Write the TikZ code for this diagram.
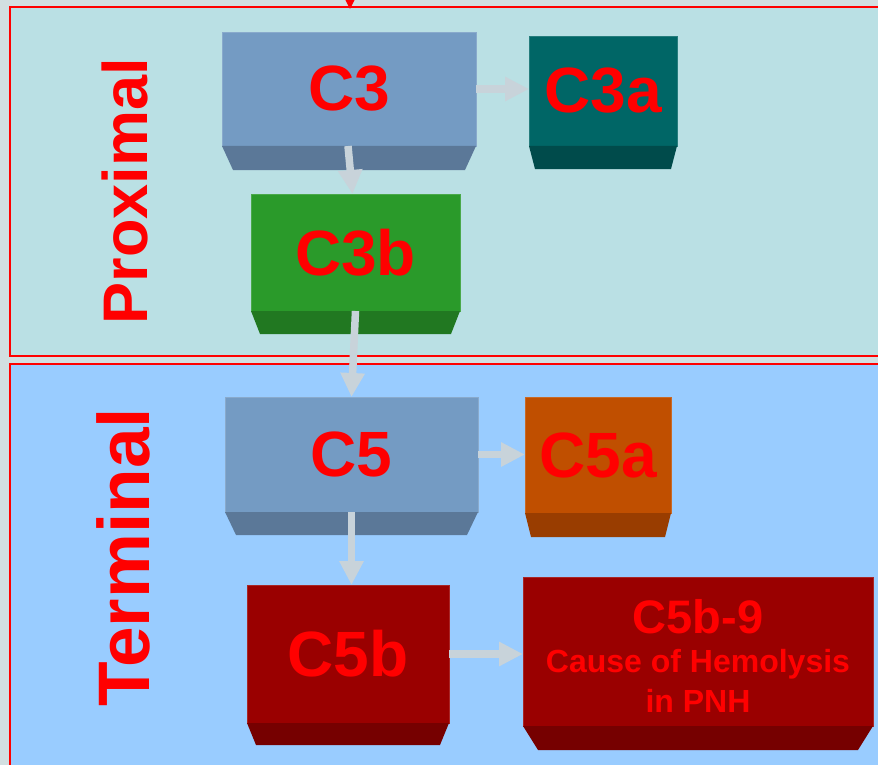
\documentclass[tikz,border=0pt]{standalone}
\usepackage{fontspec}
\setmainfont{Liberation Sans}
\usetikzlibrary{arrows.meta}
\definecolor{bggray}{HTML}{D2DFE1}
\definecolor{proxfill}{HTML}{BAE0E4}
\definecolor{termfill}{HTML}{99CCFF}
\definecolor{bluefront}{HTML}{749BC3}
\definecolor{bluebevel}{HTML}{5B7898}
\definecolor{tealfront}{HTML}{006666}
\definecolor{tealbevel}{HTML}{004B4B}
\definecolor{greenfront}{HTML}{2A9A2A}
\definecolor{greenbevel}{HTML}{217821}
\definecolor{orangefront}{HTML}{C04F00}
\definecolor{orangebevel}{HTML}{993D00}
\definecolor{redfront}{HTML}{9A0000}
\definecolor{redbevel}{HTML}{760000}
\definecolor{arrowgray}{HTML}{C8D3DA}
\definecolor{textred}{HTML}{FF0000}
\newcommand{\bevelof}[4]{\fill[#2] (#1.south west) -- (#1.south east) -- ([xshift=-#3pt,yshift=-#4pt]#1.south east) -- ([xshift=#3pt,yshift=-#4pt]#1.south west) -- cycle;}
\tikzset{
  cbox/.style={rectangle, inner sep=0pt, outer sep=0pt, text=textred,
    font=\fontsize{64}{70}\selectfont\bfseries, line width=0.8pt},
  flowarrow/.style={draw=arrowgray, line width=7.5pt,
    -{Triangle[length=24pt,width=23pt]}},
  panel/.style={draw=textred, line width=1.5pt},
  sidelabel/.style={text=textred, rotate=90, anchor=base, inner sep=0pt},
  boxtext/.style={anchor=base, inner sep=0pt, text=textred}
}
\begin{document}
\begin{tikzpicture}[x=1pt,y=-1pt]
\useasboundingbox (0,0) rectangle (878,765);
\clip (0,0) rectangle (878,765);
\fill[bggray] (0,0) rectangle (878,765);
% panels
\path[panel, fill=proxfill] (10,7) rectangle (890,356);
\path[panel, fill=termfill] (10,364) rectangle (890,780);
% incoming arrow at top
\coordinate (topin) at (350,-40);
\coordinate (topend) at (350,9);
\draw[textred, line width=1.5pt, -{Triangle[length=14pt,width=14pt]}] (topin) -- (topend);
% side labels
\node[sidelabel, font=\fontsize{63}{70}\selectfont\bfseries] (prox) at (147,191) {Proximal};
\node[sidelabel, font=\fontsize{73}{80}\selectfont\bfseries] (term) at (149,557.5) {Terminal};
% boxes
\node[cbox, fill=bluefront, draw=bluefront!85!white, minimum width=254pt, minimum height=114pt] (c3) at (349,89) {C3};
\bevelof{c3}{bluebevel}{11}{24}
\node[cbox, fill=tealfront, draw=tealfront!85!white, minimum width=148pt, minimum height=110pt] (c3a) at (603,91) {C3a};
\bevelof{c3a}{tealbevel}{6}{23}
\node[cbox, fill=greenfront, draw=greenfront!85!white, minimum width=209pt, minimum height=117pt] (c3b) at (355.5,252.5) {C3b};
\bevelof{c3b}{greenbevel}{9}{23}
\node[cbox, fill=bluefront, draw=bluefront!85!white, minimum width=253pt, minimum height=115pt] (c5) at (351.5,454.5) {C5};
\bevelof{c5}{bluebevel}{11}{23}
\node[cbox, fill=orangefront, draw=orangefront!85!white, minimum width=146pt, minimum height=116pt] (c5a) at (598,455) {C5a};
\bevelof{c5a}{orangebevel}{6}{24}
\node[cbox, fill=redfront, draw=redfront!85!white, minimum width=202pt, minimum height=138pt] (c5b) at (348,654) {C5b};
\bevelof{c5b}{redbevel}{9}{22}
\node[cbox, fill=redfront, draw=redfront!85!white, minimum width=350pt, minimum height=149pt] (c5b9) at (698,651.5) {};
\bevelof{c5b9}{redbevel}{15}{24}
\node[boxtext, font=\fontsize{47}{50}\selectfont\bfseries] (t1) at (698,633) {C5b-9};
\node[boxtext, font=\fontsize{32}{36}\selectfont\bfseries] (t2) at (698,672) {Cause of Hemolysis};
\node[boxtext, font=\fontsize{32}{36}\selectfont\bfseries] (t3) at (698,712) {in PNH};
% arrows
\draw[flowarrow] (c3.east) -- (c3.east -| c3a.west);
\draw[flowarrow] ([xshift=-1pt]c3.south) -- ([xshift=-3pt]c3b.north);
\draw[flowarrow] (c3b.south) -- (c5.north);
\draw[flowarrow] (c5.east) -- (c5.east -| c5a.west);
\draw[flowarrow] (c5.south) -- (c5.south |- c5b.north);
\draw[flowarrow] (c5b.east) -- (c5b.east -| c5b9.west);
\end{tikzpicture}
\end{document}
